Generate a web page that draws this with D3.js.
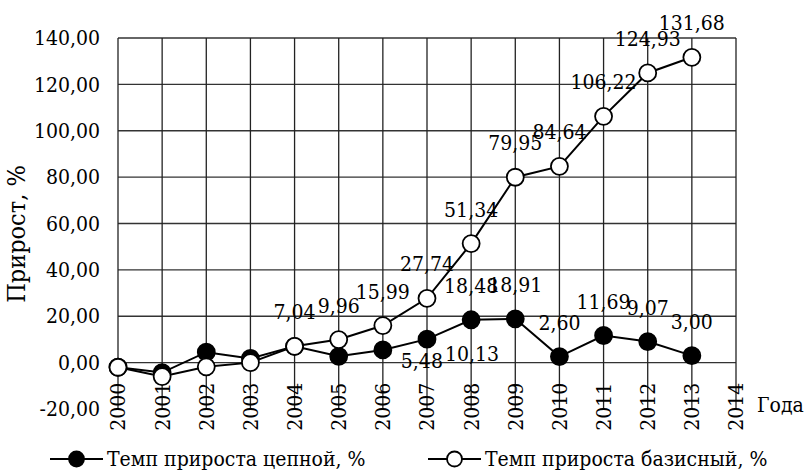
<!DOCTYPE html>
<html>
<head>
<meta charset="utf-8">
<script src="https://cdn.jsdelivr.net/npm/d3@7"></script>
<style>
  body { margin: 0; background: #fff; }
  .axis path, .axis line { display: none; }
</style>
</head>
<body>
<div id="chart"></div>
<script>
const width = 805;
const height = 471;

// data
const years = [2000, 2001, 2002, 2003, 2004, 2005, 2006, 2007, 2008, 2009, 2010, 2011, 2012, 2013];
const chainRate = [-2.0, -4.3, 4.5, 1.8, 7.0, 2.73, 5.48, 10.13, 18.48, 18.91, 2.60, 11.69, 9.07, 3.00];
const baseRate = [-2.0, -6.0, -1.8, 0.0, 7.04, 9.96, 15.99, 27.74, 51.34, 79.95, 84.64, 106.22, 124.93, 131.68];
const yTicks = [-20, 0, 20, 40, 60, 80, 100, 120, 140];
const xTicks = [2000, 2001, 2002, 2003, 2004, 2005, 2006, 2007, 2008, 2009, 2010, 2011, 2012, 2013, 2014];
const chainName = "Темп прироста цепной, %";
const baseName = "Темп прироста базисный, %";

// which points carry a value label
const chainLabelled = [6, 7, 8, 9, 10, 11, 12, 13];
const baseLabelled = [4, 5, 6, 7, 8, 9, 10, 11, 12, 13];
// two chain labels were dragged below-right of their point (dx, dy)
const chainMoved = { 6: [18, 18], 7: [18, 22] };

const font = "DejaVu Serif Condensed, DejaVu Serif";
const fs = 21;
const fmt = v => d3.format(".2f")(v).replace(".", ",").replace("−", "-");

const svg = d3.select("#chart").append("svg")
    .attr("width", width)
    .attr("height", height);

const x = d3.scaleLinear().domain([2000, 2014]).range([118, 736]);
const y = d3.scaleLinear().domain([-20, 140]).range([409, 38]);

function txt(sel, size) {
    return sel.attr("font-family", font)
        .attr("font-stretch", "condensed")
        .attr("font-size", size || fs);
}

// grid
svg.append("g")
    .selectAll("line")
    .data(yTicks.filter(d => d >= 0))
    .enter().append("line")
    .attr("x1", x(2000)).attr("x2", x(2014))
    .attr("y1", d => y(d)).attr("y2", d => y(d))
    .attr("stroke", "#333").attr("stroke-width", 1.3);

svg.append("g")
    .selectAll("line")
    .data(xTicks)
    .enter().append("line")
    .attr("x1", d => x(d)).attr("x2", d => x(d))
    .attr("y1", y(140)).attr("y2", y(-20))
    .attr("stroke", "#222").attr("stroke-width", 1.3);

// y axis labels
svg.append("g")
    .attr("class", "axis")
    .attr("transform", "translate(" + (x(2000) - 18) + ",0)")
    .call(d3.axisLeft(y).tickValues(yTicks).tickSize(0).tickPadding(0).tickFormat(fmt))
    .attr("font-family", font)
    .selectAll("text")
    .call(txt);

// x axis labels, rotated
svg.append("g")
    .attr("class", "axis")
    .attr("transform", "translate(0," + y(0) + ")")
    .call(d3.axisBottom(x).tickValues(xTicks).tickSize(0).tickFormat(d3.format("d")))
    .attr("font-family", font)
    .selectAll("text")
    .call(txt)
    .attr("text-anchor", "end")
    .attr("transform", "rotate(-90)")
    .attr("x", -20)
    .attr("y", 0)
    .attr("dy", "0.33em");

svg.append("text")
    .attr("x", 757).attr("y", 412)
    .call(txt)
    .text("Года");

svg.append("text")
    .attr("transform", "translate(25,234) rotate(-90)")
    .attr("text-anchor", "middle")
    .call(txt, 25)
    .text("Прирост, %");

// series
const line = d3.line()
    .x((d, i) => x(years[i]))
    .y(d => y(d));

function drawSeries(values, fill) {
    svg.append("path")
        .datum(values)
        .attr("d", line)
        .attr("fill", "none")
        .attr("stroke", "#000")
        .attr("stroke-width", 2);
    svg.append("g")
        .selectAll("circle")
        .data(values)
        .enter().append("circle")
        .attr("cx", (d, i) => x(years[i]))
        .attr("cy", d => y(d))
        .attr("r", 8.5)
        .attr("fill", fill)
        .attr("stroke", "#000")
        .attr("stroke-width", 1.8);
}

function drawLabels(values, idx, moved) {
    svg.append("g")
        .selectAll("text")
        .data(idx)
        .enter().append("text")
        .attr("x", i => moved[i] ? x(years[i]) + moved[i][0] : x(years[i]))
        .attr("y", i => moved[i] ? y(values[i]) + moved[i][1] : y(values[i]) - 27)
        .attr("text-anchor", i => moved[i] ? "start" : "middle")
        .call(txt)
        .text(i => fmt(values[i]));
}

drawSeries(chainRate, "#000");
drawSeries(baseRate, "#fff");
drawLabels(chainRate, chainLabelled, chainMoved);
drawLabels(baseRate, baseLabelled, {});

// legend
const legend = [
    { name: chainName, fill: "#000", x0: 50 },
    { name: baseName, fill: "#fff", x0: 428 }
];
const lg = svg.append("g").selectAll("g")
    .data(legend)
    .enter().append("g")
    .attr("transform", d => "translate(" + d.x0 + ",459)");
lg.append("line")
    .attr("x1", 0).attr("x2", 53)
    .attr("stroke", "#000").attr("stroke-width", 2);
lg.append("circle")
    .attr("cx", 26.5).attr("r", 7.5)
    .attr("fill", d => d.fill)
    .attr("stroke", "#000").attr("stroke-width", 1.8);
lg.append("text")
    .attr("x", 57).attr("y", 0).attr("dy", "0.35em")
    .call(txt)
    .text(d => d.name);
</script>
</body>
</html>
